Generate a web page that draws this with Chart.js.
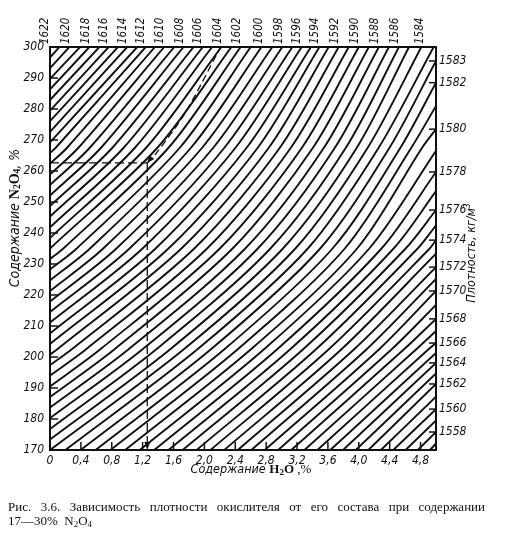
<!DOCTYPE html>
<html><head><meta charset="utf-8">
<script src="https://cdn.jsdelivr.net/npm/chart.js@4"></script>
<style>html,body{margin:0;padding:0;background:#fff}canvas{display:block}</style>
</head><body>
<canvas id="c" width="507" height="533"></canvas>
<script>
// ---- axis ticks ----
const n2o4Ticks = [170,180,190,200,210,220,230,240,250,260,270,280,290,300];
const h2oTicks = [0,0.4,0.8,1.2,1.6,2.0,2.4,2.8,3.2,3.6,4.0,4.4,4.8];
const topLabels = [1622,1620,1618,1616,1614,1612,1610,1608,1606,1604,1602,1600,1598,1596,1594,1592,1590,1588,1586,1584];
const rightLabels = [1583,1582,1580,1578,1576,1574,1572,1570,1568,1566,1564,1562,1560,1558];

// ---- density isolines (kg/m3): crossing points ----
// top frame (N2O4 = 300): H2O value
const isoTopDensity = [1622,1621,1620,1619,1618,1617,1616,1615,1614,1613,1612,1611,1610,1609,1608,1607,1606,1605,1604,1603,1602,1601,1600,1599,1598,1597,1596,1595,1594,1593,1592,1591,1590,1589,1588,1587,1586,1585,1584];
const isoTopX = [0.12,0.25,0.39,0.51,0.64,0.76,0.88,1.00,1.13,1.24,1.36,1.48,1.61,1.73,1.86,1.98,2.10,2.22,2.35,2.47,2.60,2.74,2.88,3.01,3.14,3.26,3.38,3.49,3.61,3.74,3.87,4.00,4.13,4.26,4.39,4.52,4.65,4.81,4.97];
// right frame (H2O = 5): N2O4 value
const isoRightDensity = [1583,1582,1581,1580,1579,1578,1577,1576,1575,1574,1573,1572,1571,1570,1569,1568,1567,1566,1565,1564,1563,1562,1561,1560,1559,1558,1557];
const isoRightY = [295.5,288.5,281.0,273.5,266.5,259.7,253.5,247.4,242.5,237.7,233.3,229.0,225.2,221.3,216.8,212.3,208.4,204.5,201.3,198.1,194.7,191.3,187.2,183.2,179.5,175.8,172.1];
// left frame (H2O = 0): N2O4 value
const isoLeftDensity = [1622,1621,1620,1619,1618,1617,1616,1615,1614,1613,1612,1611,1610,1609,1608,1607,1606,1605,1604,1603,1602,1601,1600,1599,1598,1597,1596,1595,1594,1593,1592,1591,1590,1589,1588,1587,1586];
const isoLeftY = [296.6,293.2,289.7,286.3,282.9,279.5,276.1,272.6,269.2,265.8,262.4,258.9,255.5,252.1,248.7,245.3,241.8,238.4,235.0,231.6,228.2,224.7,221.3,217.9,214.5,211.1,207.6,204.2,200.8,197.4,194.0,190.5,187.1,183.7,180.3,176.8,173.4];
// bottom frame (N2O4 = 170): H2O value
const isoBottomDensity = [1585,1584,1583,1582,1581,1580,1579,1578,1577,1576,1575,1574,1573,1572,1571,1570,1569,1568,1567,1566,1565,1564,1563,1562,1561,1560,1559,1558,1557];
const isoBottomX = [0.00,0.199,0.396,0.590,0.783,0.973,1.162,1.349,1.534,1.717,1.899,2.079,2.257,2.434,2.609,2.783,2.955,3.126,3.296,3.464,3.631,3.796,3.961,4.124,4.286,4.447,4.606,4.764,4.922];
// interior rows: H2O value where each line crosses N2O4 = 202.5, 235, 267.5
const rowLowY = 202.5;
const rowLowDensity = [1594,1593,1592,1591,1590,1589,1588,1587,1586,1585,1584,1583,1582,1581,1580,1579,1578,1577,1576,1575,1574,1573,1572,1571,1570,1569,1568,1567,1566];
const rowLowX = [0.095,0.282,0.468,0.652,0.836,1.018,1.199,1.378,1.557,1.734,1.910,2.085,2.259,2.432,2.603,2.773,2.943,3.112,3.279,3.446,3.611,3.776,3.940,4.102,4.264,4.426,4.586,4.745,4.903];
const rowMidY = 235;
const rowMidDensity = [1603,1602,1601,1600,1599,1598,1597,1596,1595,1594,1593,1592,1591,1590,1589,1588,1587,1586,1585,1584,1583,1582,1581,1580,1579,1578,1577,1576,1575,1574];
const rowMidX = [0.173,0.346,0.518,0.689,0.860,1.030,1.199,1.368,1.535,1.702,1.869,2.035,2.200,2.365,2.529,2.692,2.855,3.017,3.179,3.340,3.500,3.660,3.819,3.978,4.136,4.294,4.451,4.607,4.763,4.919];
const rowHighY = 267.5;
const rowHighDensity = [1613,1612,1611,1610,1609,1608,1607,1606,1605,1604,1603,1602,1601,1600,1599,1598,1597,1596,1595,1594,1593,1592,1591,1590,1589,1588,1587,1586,1585,1584,1583,1582,1581,1580];
const rowHighX = [0.074,0.221,0.368,0.515,0.661,0.808,0.954,1.100,1.245,1.391,1.536,1.681,1.826,1.971,2.115,2.259,2.403,2.547,2.691,2.834,2.977,3.120,3.263,3.406,3.548,3.690,3.832,3.974,4.115,4.257,4.398,4.539,4.680,4.820];

// ---- example (dashed) construction ----
const exampleH2O = 1.26;
const exampleN2O4 = 262.6;
const exampleCurveX = [1.26,1.36,1.75,2.21];
const exampleCurveY = [262.6,265.2,278.7,300];

const X_MIN = 0, X_MAX = 5, Y_MIN = 170, Y_MAX = 300;

// build isoline datasets from the crossing tables
const allDens = Array.from(new Set([...isoTopDensity, ...isoRightDensity])).sort((a,b)=>b-a);
const datasets = [];
function pick(dens, arr, d) { const i = dens.indexOf(d); return i >= 0 ? arr[i] : null; }
allDens.forEach(d => {
  const pts = [];
  let v;
  if ((v = pick(isoLeftDensity, isoLeftY, d)) !== null) pts.push({x: X_MIN, y: v});
  if ((v = pick(isoBottomDensity, isoBottomX, d)) !== null) pts.push({x: v, y: Y_MIN});
  if ((v = pick(rowLowDensity, rowLowX, d)) !== null) pts.push({x: v, y: rowLowY});
  if ((v = pick(rowMidDensity, rowMidX, d)) !== null) pts.push({x: v, y: rowMidY});
  if ((v = pick(rowHighDensity, rowHighX, d)) !== null) pts.push({x: v, y: rowHighY});
  if ((v = pick(isoTopDensity, isoTopX, d)) !== null) pts.push({x: v, y: Y_MAX});
  if ((v = pick(isoRightDensity, isoRightY, d)) !== null) pts.push({x: X_MAX, y: v});
  pts.sort((a,b) => a.x - b.x || a.y - b.y);
  if (pts.length >= 2) datasets.push({data: pts, borderColor:'#111', borderWidth:1.9, showLine:true, pointRadius:0, fill:false, tension:0.3});
});
datasets.push({data: exampleCurveX.map((x,i)=>({x, y: exampleCurveY[i]})), borderColor:'#111', borderWidth:1.3, borderDash:[7,4], showLine:true, pointRadius:0, tension:0.3});
datasets.push({data:[{x:X_MIN,y:exampleN2O4},{x:exampleH2O,y:exampleN2O4}], borderColor:'#111', borderWidth:1.3, borderDash:[9,4], showLine:true, pointRadius:0});
datasets.push({data:[{x:exampleH2O,y:exampleN2O4},{x:exampleH2O,y:Y_MIN}], borderColor:'#111', borderWidth:1.3, borderDash:[9,4], showLine:true, pointRadius:0});

const NARROW = "'Liberation Sans Narrow','DejaVu Sans Condensed','Liberation Sans',sans-serif";
const SERIF = "'Liberation Serif','DejaVu Serif',serif";
const tickFont = {family: NARROW, size: 12, style: 'italic'};
const topFont = {family: NARROW, size: 11.5, style: 'italic'};

function drawRuns(ctx, runs, x, y, align) {
  let w = 0;
  runs.forEach(r => { ctx.font = r.f; w += ctx.measureText(r.t).width; });
  let cx = align === 'center' ? x - w/2 : x;
  ctx.textBaseline = 'middle'; ctx.textAlign = 'left';
  runs.forEach(r => { ctx.font = r.f; ctx.fillText(r.t, cx, y + (r.dy||0)); cx += ctx.measureText(r.t).width; });
}
function justify(ctx, text, x0, x1, y, font) {
  ctx.font = font; ctx.textBaseline = 'middle'; ctx.textAlign = 'left';
  const words = text.split(' ');
  const tw = words.reduce((s,w)=>s+ctx.measureText(w).width,0);
  const gap = (x1 - x0 - tw) / (words.length - 1);
  let cx = x0;
  words.forEach(w => { ctx.fillText(w, cx, y); cx += ctx.measureText(w).width + gap; });
}

const decor = {
  id: 'decor',
  afterDraw(chart) {
    const ctx = chart.ctx, xs = chart.scales.x, ys = chart.scales.y;
    const a = chart.chartArea;
    ctx.save();
    ctx.strokeStyle = '#111'; ctx.fillStyle = '#111'; ctx.lineWidth = 1.5;
    // inner tick marks
    h2oTicks.forEach(v => { if (v === 0) return; const p = xs.getPixelForValue(v); ctx.beginPath(); ctx.moveTo(p, a.bottom); ctx.lineTo(p, a.bottom - 8); ctx.stroke(); });
    n2o4Ticks.forEach(v => { if (v === Y_MIN || v === Y_MAX) return; const p = ys.getPixelForValue(v); ctx.beginPath(); ctx.moveTo(a.left, p); ctx.lineTo(a.left + 8, p); ctx.stroke(); });
    rightLabels.forEach(d => { const p = ys.getPixelForValue(isoRightY[isoRightDensity.indexOf(d)]); ctx.beginPath(); ctx.moveTo(a.right, p); ctx.lineTo(a.right - 7, p); ctx.stroke(); });
    // arrowheads
    const ax = xs.getPixelForValue(exampleH2O), ay = ys.getPixelForValue(exampleN2O4);
    ctx.beginPath(); ctx.moveTo(ax, ay); ctx.lineTo(ax + 2, ay - 8); ctx.lineTo(ax + 7, ay - 4); ctx.closePath(); ctx.fill();
    const by = ys.getPixelForValue(Y_MIN);
    ctx.beginPath(); ctx.moveTo(ax, by); ctx.lineTo(ax - 3, by - 8); ctx.lineTo(ax + 3, by - 8); ctx.closePath(); ctx.fill();
    // axis titles
    const sansI = "italic 12.5px " + NARROW;
    drawRuns(ctx, [
      {t:'Содержание ', f: sansI},
      {t:'H', f:'bold 13px ' + SERIF},
      {t:'2', f:'bold 9px ' + SERIF, dy:3},
      {t:'O', f:'bold 13px ' + SERIF},
      {t:' ,%', f:'13px ' + SERIF}
    ], 251, 470, 'center');
    ctx.save(); ctx.translate(15, 218); ctx.rotate(-Math.PI/2);
    drawRuns(ctx, [
      {t:'Содержание ', f:"italic 14px " + NARROW},
      {t:'N', f:'bold 14px ' + SERIF},
      {t:'2', f:'bold 9.5px ' + SERIF, dy:3},
      {t:'O', f:'bold 14px ' + SERIF},
      {t:'4', f:'bold 9.5px ' + SERIF, dy:3},
      {t:', %', f:"italic 14px " + NARROW}
    ], 0, 0, 'center');
    ctx.restore();
    ctx.save(); ctx.translate(472, 253); ctx.rotate(-Math.PI/2);
    drawRuns(ctx, [{t:'Плотность, кг/м', f:sansI},{t:'3', f:"italic 8px " + NARROW, dy:-4}], 0, 0, 'center');
    ctx.restore();
    // caption
    justify(ctx, 'Рис. 3.6. Зависимость плотности окислителя от его состава при содержании', 8, 485, 508, "13px " + SERIF);
    drawRuns(ctx, [
      {t:'17—30%  N', f:"13px " + SERIF},
      {t:'2', f:"9px " + SERIF, dy:2.5},
      {t:'O', f:"13px " + SERIF},
      {t:'4', f:"9px " + SERIF, dy:2.5}
    ], 8, 522, 'left');
    ctx.restore();
  }
};

new Chart(document.getElementById('c'), {
  type: 'scatter',
  data: { datasets },
  options: {
    responsive: false, animation: false, devicePixelRatio: 1,
    layout: { padding: 0 },
    plugins: { legend: {display:false}, tooltip: {enabled:false} },
    scales: {
      x: {
        type:'linear', position:'bottom', min:X_MIN, max:X_MAX,
        afterBuildTicks: s => { s.ticks = h2oTicks.map(v => ({value:v})); },
        afterFit: s => { s.height = 83; },
        grid: {display:false, drawTicks:false},
        border: {display:true, color:'#111', width:2},
        ticks: {autoSkip:false, maxRotation:0, padding:4, color:'#111', font: tickFont,
          callback: v => v === 0 ? '0' : Number(v).toFixed(1).replace('.', ',')}
      },
      x2: {
        type:'linear', position:'top', min:X_MIN, max:X_MAX,
        afterBuildTicks: s => { s.ticks = topLabels.map(d => ({value: isoTopX[isoTopDensity.indexOf(d)]})); },
        afterFit: s => { s.height = 47; },
        grid: {display:false, drawTicks:false},
        border: {display:true, color:'#111', width:2},
        ticks: {autoSkip:false, minRotation:90, maxRotation:90, padding:3, color:'#111', font: topFont,
          callback: (v, i) => String(topLabels[i])}
      },
      y: {
        type:'linear', position:'left', min:Y_MIN, max:Y_MAX,
        afterBuildTicks: s => { s.ticks = n2o4Ticks.map(v => ({value:v})); },
        afterFit: s => { s.width = 50; },
        grid: {display:false, drawTicks:false},
        border: {display:true, color:'#111', width:2},
        ticks: {autoSkip:false, padding:6, color:'#111', font: tickFont, callback: v => String(v)}
      },
      y2: {
        type:'linear', position:'right', min:Y_MIN, max:Y_MAX,
        afterBuildTicks: s => { s.ticks = rightLabels.map(d => ({value: isoRightY[isoRightDensity.indexOf(d)]})); },
        afterFit: s => { s.width = 71; },
        grid: {display:false, drawTicks:false},
        border: {display:true, color:'#111', width:2},
        ticks: {autoSkip:false, padding:3, color:'#111', font: tickFont, callback: (v, i) => String(rightLabels[i])}
      }
    }
  },
  plugins: [decor]
});
</script>
</body></html>
